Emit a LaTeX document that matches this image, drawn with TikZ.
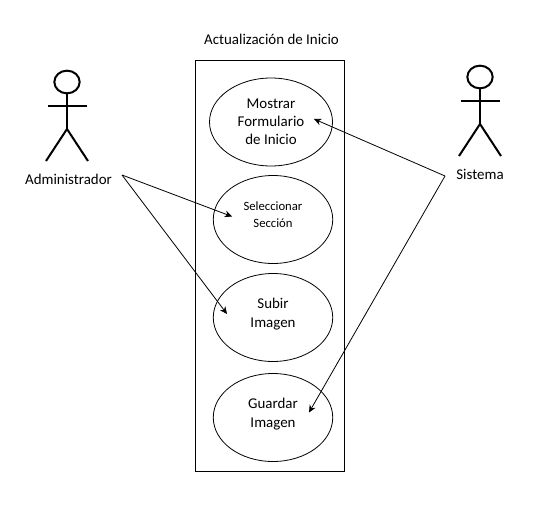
\documentclass[tikz,border=0pt]{standalone}
\usepackage{fontspec}
\setmainfont{Carlito}
\usetikzlibrary{arrows.meta, shapes.geometric}

\begin{document}
\begin{tikzpicture}[
  x=0.75pt, y=-0.75pt,
  usecase/.style={draw, ellipse, line width=0.6pt, minimum width=89.6pt, minimum height=66pt, inner sep=0pt, align=center, font=\fontsize{11.2}{14.2}\selectfont},
  raised/.style={text depth=7pt},
  label/.style={inner sep=0pt, font=\fontsize{11.2}{14}\selectfont},
  head/.style={draw, ellipse, line width=1.5pt, minimum width=19pt, minimum height=17pt, inner sep=0pt},
  limb/.style={line width=1.5pt},
  arr/.style={-{Stealth[length=5.5pt, width=5pt]}, line width=0.6pt},
  actor/.pic={
    \node[head] (-head) at (0,0) {};
    \coordinate (-hip) at (0,47);
    \draw[limb] (-head.south) -- (-hip);
    \draw[limb] (-19.5,24) -- (19.5,24);
    \draw[limb] (-21,79) -- (-hip) -- (21,79);
  }
]
  \useasboundingbox (0,0) rectangle (555,524);
  \node[label] (title) at (271.5,39.5) {Actualización de Inicio};
  \node[draw, line width=0.75pt, minimum width=111.5pt, minimum height=308.25pt, inner sep=0pt] (system) at (270,266) {};
  \node[usecase, minimum width=92.25pt, font=\fontsize{11.2}{13.5}\selectfont] (mostrar) at (271,122) {Mostrar\\Formulario\\de Inicio};
  \node[usecase, raised, font=\fontsize{9.5}{13}\selectfont] (seleccionar) at (273,219.5) {Seleccionar\\Sección};
  \node[usecase, raised] (subir) at (273,317.5) {Subir\\Imagen};
  \node[usecase, raised] (guardar) at (273,417.5) {Guardar\\Imagen};

  \pic (admin) at (67,82) {actor};
  \pic (sist) at (480,77) {actor};
  \node[label] (administrador) at (68.5,179) {Administrador};
  \node[label] (sistema) at (480,174.5) {Sistema};

  % free ends of the connectors
  \coordinate (adminOut) at (122,175);
  \coordinate (sistOut) at (445,176);
  \coordinate (mostrarIn) at (314,119);
  \coordinate (seleccionarIn) at (232,216.5);
  \coordinate (subirIn) at (227,314);
  \coordinate (guardarIn) at (309,412.5);

  \draw[arr] (adminOut) -- (seleccionarIn);
  \draw[arr] (adminOut) -- (subirIn);
  \draw[arr] (sistOut) -- (mostrarIn);
  \draw[arr] (sistOut) -- (guardarIn);
\end{tikzpicture}
\end{document}
